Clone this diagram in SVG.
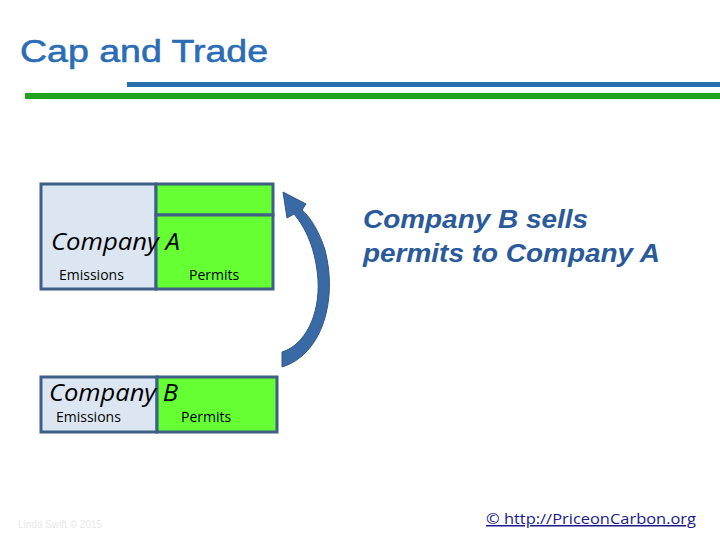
<svg xmlns="http://www.w3.org/2000/svg" width="720" height="540" viewBox="0 0 720 540">
<style>
.em{fill:#dce6f2;stroke:#3e5f86;stroke-width:3}
.pm{fill:#66ff33;stroke:#3e5f86;stroke-width:3}
.co{font-family:"Open Sans","DejaVu Sans",sans-serif;font-style:italic;font-size:24px;fill:#000}
.lb{font-family:"Open Sans","DejaVu Sans",sans-serif;font-size:14px;fill:#000}
.rt{font-family:"Liberation Sans",Arial,sans-serif;font-size:25px;font-weight:bold;font-style:italic;fill:#2a5a9a}
</style>
<rect width="720" height="540" fill="#fff"/>
<text x="20" y="62" font-family="Liberation Sans,Arial,sans-serif" font-size="32" fill="#2a6db5" stroke="#2a6db5" stroke-width="0.6" textLength="248" lengthAdjust="spacingAndGlyphs">Cap and Trade</text>
<rect x="127" y="82" width="593" height="5" fill="#2a6fad"/>
<rect x="25" y="93" width="695" height="6" fill="#22a020"/>
<g id="companyA">
<rect class="em" x="41" y="184" width="115" height="105"/>
<rect class="pm" x="156" y="184" width="117" height="31"/>
<rect class="pm" x="156" y="215" width="117" height="74"/>
<text class="co" x="51" y="250" textLength="129" lengthAdjust="spacingAndGlyphs">Company A</text>
<text class="lb" x="59" y="280">Emissions</text>
<text class="lb" x="189" y="280">Permits</text>
</g>
<g id="companyB">
<rect class="em" x="41" y="377" width="116" height="55"/>
<rect class="pm" x="157" y="377" width="120" height="55"/>
<text class="co" x="49" y="401" textLength="129" lengthAdjust="spacingAndGlyphs">Company B</text>
<text class="lb" x="56" y="422">Emissions</text>
<text class="lb" x="181" y="422">Permits</text>
</g>
<g id="connectors">
<path d="M282,367 C322,355 338,300 325,250 C318,228 308,215 302,210 L306,204 L283,192 L287,218 L294,214 C306,228 316,250 318,280 C320,315 305,345 282,352 Z" fill="#3a6aa6" stroke="#2f5684" stroke-width="1"/>
</g>
<text class="rt" x="363" y="228" textLength="225" lengthAdjust="spacingAndGlyphs">Company B sells</text>
<text class="rt" x="363" y="262" textLength="297" lengthAdjust="spacingAndGlyphs">permits to Company A</text>
<text x="18" y="528" font-family="Liberation Sans,Arial,sans-serif" font-size="10" fill="#e8e8e8">Linda Swift © 2015</text>
<text x="486" y="524" font-family="Open Sans,DejaVu Sans,sans-serif" font-size="15" fill="#1a1a8c" text-decoration="underline" textLength="210" lengthAdjust="spacingAndGlyphs"> © http://PriceonCarbon.org</text>
</svg>
